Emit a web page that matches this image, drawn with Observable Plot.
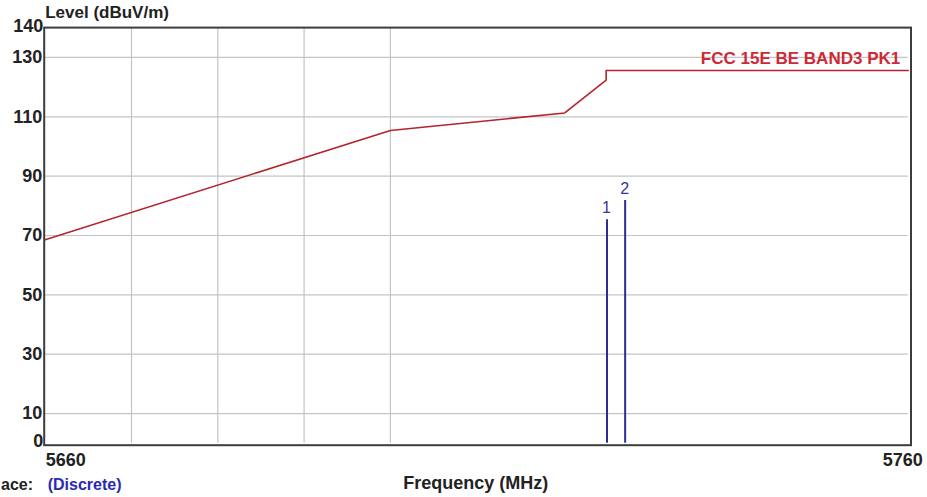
<!DOCTYPE html>
<html>
<head>
<meta charset="utf-8">
<script src="https://cdn.jsdelivr.net/npm/d3@7"></script>
<script src="https://cdn.jsdelivr.net/npm/@observablehq/plot@0.6"></script>
<style>
  html, body { margin: 0; padding: 0; background: #fff; overflow: hidden; }
</style>
</head>
<body>
<div id="chart"></div>
<script>
// Axis domains and ticks
const xDomain = [5660, 5760];
const yDomain = [0, 140];
const yTickLabels = [10, 30, 50, 70, 90, 110, 130];
const yEndLabels = [0, 140];
const yGrid = [10, 30, 50, 70, 90, 110, 130];
const xGrid = [5670, 5680, 5690, 5700];
const xTickLabels = [5660, 5760];

// Limit line "FCC 15E BE BAND3 PK1"
const limitFreq = [5660, 5700, 5720.2, 5725, 5725, 5760];
const limitLevel = [68.6, 105.4, 111.3, 122.4, 125.6, 125.6];
const limitName = "FCC 15E BE BAND3 PK1";

// Markers
const markerId = ["1", "2"];
const markerFreq = [5725.1, 5727.2];
const markerLevel = [75.3, 81.8];

const limit = limitFreq.map((f, i) => ({f, v: limitLevel[i]}));
const markers = markerId.map((id, i) => ({id, f: markerFreq[i], v: markerLevel[i]}));
const frameBox = [{x1: xDomain[0], x2: xDomain[1], y1: yDomain[0], y2: yDomain[1]}];

const font = "'Liberation Sans', Arial, sans-serif";
const ink = "#222";

const chart = Plot.plot({
  width: 927,
  height: 497,
  marginLeft: 44.7,
  marginRight: 19.3,
  marginTop: 27.3,
  marginBottom: 54.3,
  style: {fontFamily: font, background: "#fff", overflow: "visible"},
  x: {domain: xDomain, axis: null},
  y: {domain: yDomain, axis: null},
  marks: [
    Plot.ruleY(yGrid, {stroke: "#c4c4c4", strokeWidth: 1.2}),
    Plot.ruleX(xGrid, {stroke: "#c4c4c4", strokeWidth: 1.2}),
    Plot.line(limit, {x: "f", y: "v", stroke: "#b3242e", strokeWidth: 1.6}),
    Plot.text([limitName], {x: xDomain[1], y: limitLevel[limitLevel.length - 1], text: d => d,
      textAnchor: "end", dx: -8, dy: -11.5, fill: "#cc2a36", fontSize: 17, fontWeight: "bold"}),
    Plot.ruleX(markers, {x: "f", y1: 0, y2: "v", stroke: "#2e2e92", strokeWidth: 2}),
    Plot.text(markers, {x: "f", y: "v", text: "id", dy: -12, dx: -0.5, fill: "#3535a0", fontSize: 16}),
    Plot.rect(frameBox, {x1: "x1", x2: "x2", y1: "y1", y2: "y2", fill: "none",
      stroke: "#3c3c3c", strokeWidth: 2, insetRight: -3.3, insetBottom: -2.5, insetLeft: -0.5, insetTop: 0.3}),
    // y tick labels
    Plot.text(yTickLabels, {x: xDomain[0], y: d => d, text: d => String(d), textAnchor: "end",
      dx: -3, fill: ink, fontSize: 18, fontWeight: "bold"}),
    Plot.text(yEndLabels, {x: xDomain[0], y: d => d, text: d => String(d), textAnchor: "end",
      dx: -2, dy: -2, fill: ink, fontSize: 18, fontWeight: "bold"}),
    // x tick labels
    Plot.text([xTickLabels[0]], {x: d => d, y: yDomain[0], text: d => String(d),
      textAnchor: "start", dx: 0.5, dy: 17.5, fill: ink, fontSize: 18, fontWeight: "bold"}),
    Plot.text([xTickLabels[1]], {x: d => d, y: yDomain[0], text: d => String(d),
      textAnchor: "end", dx: 14.5, dy: 17.5, fill: ink, fontSize: 18, fontWeight: "bold"}),
    // axis titles
    Plot.text(["Level (dBuV/m)"], {frameAnchor: "top-left", text: d => d, dx: 0, dy: -9.5,
      textAnchor: "start", lineAnchor: "bottom", fill: ink, fontSize: 17, fontWeight: "bold", letterSpacing: 0.6}),
    Plot.text(["Frequency (MHz)"], {frameAnchor: "bottom", text: d => d, dy: 46, dx: -1,
      fill: ink, fontSize: 18, fontWeight: "bold", letterSpacing: 0.45}),
    Plot.text(["ace:"], {frameAnchor: "bottom-left", text: d => d, dx: 0 - 44.7 + 0.5, dy: 47,
      textAnchor: "start", fill: ink, fontSize: 16, fontWeight: "bold"}),
    Plot.text(["(Discrete)"], {frameAnchor: "bottom-left", text: d => d, dx: 2.5, dy: 47,
      textAnchor: "start", fill: "#2a2ab0", fontSize: 16, fontWeight: "bold"})
  ]
});
document.getElementById("chart").appendChild(chart);
</script>
</body>
</html>
